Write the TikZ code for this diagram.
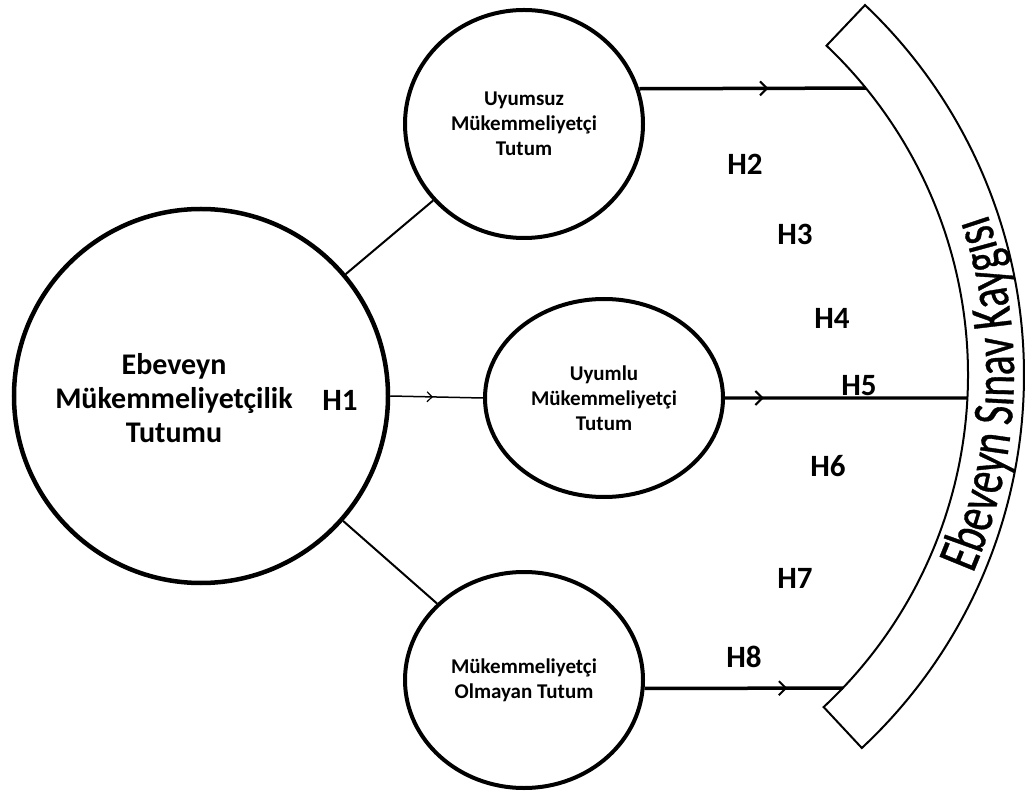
\documentclass[tikz,border=0pt]{standalone}
\usepackage{fontspec}
\setmainfont{Carlito}
\newfontfamily\bandfont[FakeStretch=0.72,FakeBold=0.6]{Carlito}
\usetikzlibrary{shapes.geometric,arrows.meta,decorations.markings,decorations.text,calc}
\begin{document}
\begin{tikzpicture}[x=1pt,y=1pt,
  circ/.style={draw, line width=4pt, ellipse, inner sep=0pt, align=center,
    font=\bfseries\fontsize{21}{25}\selectfont},
  conn/.style={line width=2pt},
  hyp/.style={font=\bfseries\fontsize{31}{31}\selectfont, inner sep=0pt},
  bigarrow/.style={postaction={decorate}, decoration={markings,
    mark=at position #1 with {\arrow[line width=2pt]{Straight Barb[length=7pt,width=14pt]}}}},
  smallarrow/.style={postaction={decorate}, decoration={markings,
    mark=at position #1 with {\arrow[line width=1.2pt]{Straight Barb[length=5pt,width=10pt]}}}},
  band/.style={line width=2pt}
]
\useasboundingbox (0,0) rectangle (1033,796);
\fill[white] (0,0) rectangle (1033,796);

% nodes
\node[circ, minimum width=374pt, minimum height=374pt, line width=4.5pt] (big) at (201,400) {};
\node[align=center, font=\bfseries\fontsize{30}{34}\selectfont, inner sep=0pt] (bigtext) at (174,398)
  {Ebeveyn\\Mükemmeliyetçilik\\Tutumu};
\node[circ, minimum width=238pt, minimum height=228pt] (top) at (524,672) {Uyumsuz\\Mükemmeliyetçi\\Tutum};
\node[circ, minimum width=238pt, minimum height=198pt] (mid) at (604,398) {Uyumlu\\Mükemmeliyetçi\\Tutum};
\node[circ, minimum width=238pt, minimum height=216pt] (bot) at (524,116) {Mükemmeliyetçi\\Olmayan Tutum};

% band
\coordinate (arcc) at (514,421);
\draw[band] ($(arcc)+(-47:454)$) arc[start angle=-47, end angle=46.5, radius=454]
  -- ($(arcc)+(46.5:510)$) arc[start angle=46.5, end angle=-47, radius=510] -- cycle;
\coordinate (e2) at ($(arcc)+(39.2:454)$);
\coordinate (e5) at ($(arcc)+(-2.9:454)$);
\coordinate (e8) at ($(arcc)+(-43.6:454)$);

\path[decorate, decoration={text along path,
  text={|\bandfont\fontsize{58}{58}\selectfont|Ebeveyn Sınav Kaygısı}, text align=center}]
  ($(arcc)+(-32.3:500)$) arc[start angle=-32.3, end angle=27.7, radius=500];

% connectors
\draw[conn] (big) -- (top);
\draw[conn] (big) -- (bot);
\draw[line width=1.5pt, smallarrow=0.46] (big.east) -- (mid.west);
\draw[line width=3.5pt, bigarrow=0.57] (top.17.5) -- (e2);
\draw[line width=3.2pt, bigarrow=0.16] (mid.east) -- (e5);
\draw[line width=3.5pt, bigarrow=0.72] (bot.-4) -- (e8);

% hypothesis labels
\node[hyp] (h1) at (340,396) {H1};
\node[hyp] (h2) at (745,632) {H2};
\node[hyp] (h3) at (795,562) {H3};
\node[hyp] (h4) at (832,478) {H4};
\node[hyp] (h5) at (859,410) {H5};
\node[hyp] (h6) at (828,330) {H6};
\node[hyp] (h7) at (795,218) {H7};
\node[hyp] (h8) at (744,139) {H8};
\end{tikzpicture}
\end{document}
